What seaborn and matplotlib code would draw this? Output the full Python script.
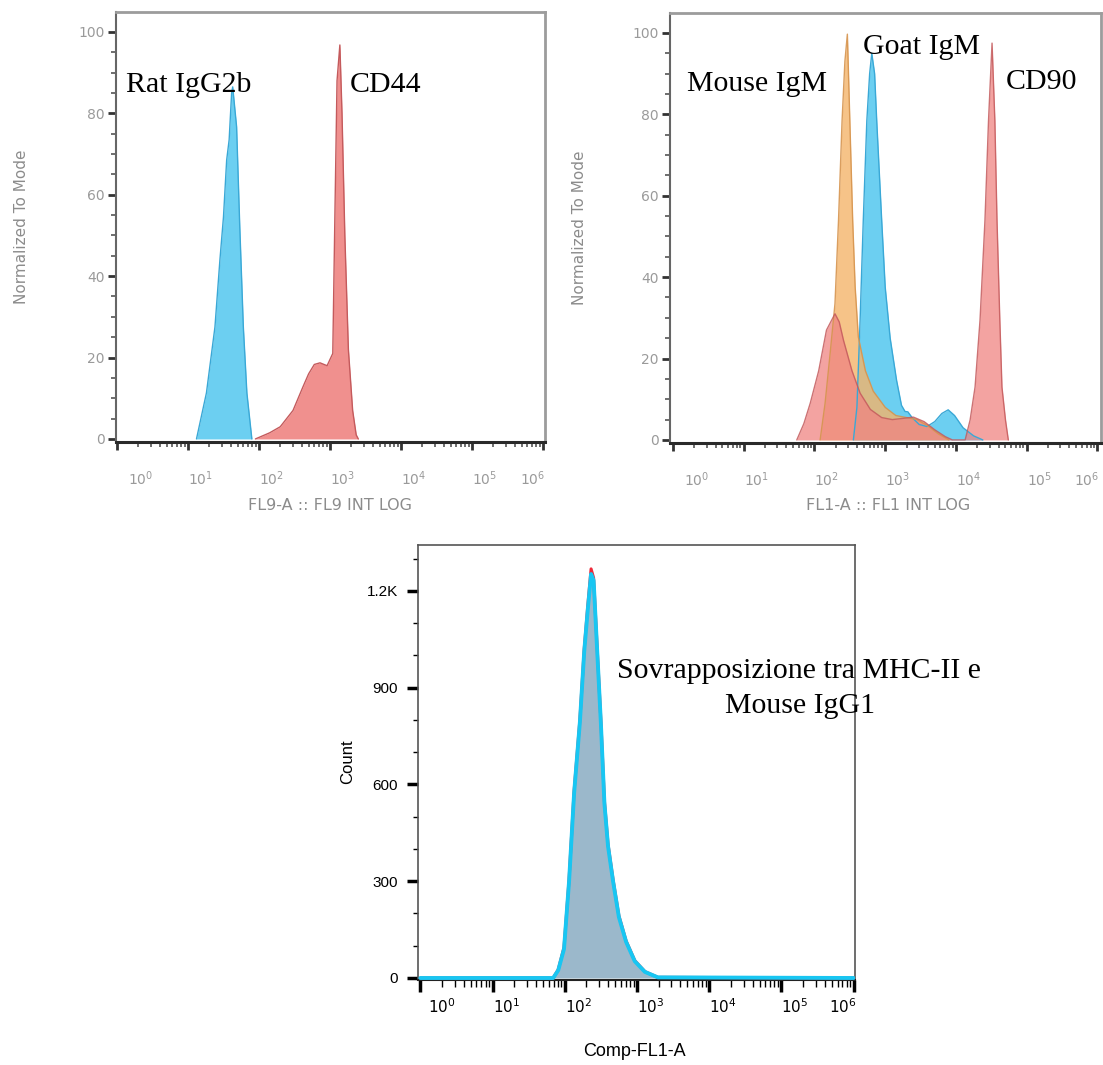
import numpy as np
import matplotlib
matplotlib.use("Agg")
import matplotlib.pyplot as plt
import matplotlib.ticker as mticker
import matplotlib.transforms as mtransforms
import seaborn as sns

# top left panel (FL9)
rat_igg2b_x = [1.12, 1.26, 1.38, 1.45, 1.50, 1.545, 1.58, 1.615, 1.63, 1.685, 1.73, 1.78, 1.83, 1.90]
rat_igg2b_y = [0, 11.3, 27.5, 44, 54.5, 68.5, 73.5, 85, 86.5, 76.7, 52, 27.5, 11.3, 0]
cd44_x = [1.95, 2.15, 2.30, 2.48, 2.62, 2.70, 2.78, 2.86, 2.96, 3.04, 3.07, 3.10, 3.14, 3.17, 3.21, 3.26, 3.32, 3.37, 3.40]
cd44_y = [0, 1.5, 3, 7, 12.8, 16, 18.3, 18.7, 18.0, 21, 55, 88, 96.8, 80, 50, 22, 7, 1, 0]

# top right panel (FL1)
goat_igm_x = [2.55, 2.60, 2.645, 2.69, 2.74, 2.78, 2.81, 2.85, 2.88, 2.95, 3.00, 3.07, 3.16, 3.23, 3.28,
              3.32, 3.38, 3.48, 3.59, 3.70, 3.80, 3.89, 3.98, 4.10, 4.25, 4.38]
goat_igm_y = [0, 8, 29.4, 54, 78.4, 90, 95, 90, 78.4, 54, 37.5, 25, 14.7, 8.5, 7,
              6.9, 5.5, 3.8, 3.3, 4.5, 6.5, 7.4, 6, 3, 1, 0]
mouse_igm_x = [2.08, 2.15, 2.22, 2.29, 2.34, 2.39, 2.43, 2.465, 2.50, 2.54, 2.575, 2.62, 2.72, 2.83,
               3.00, 3.15, 3.30, 3.45, 3.60, 3.75, 3.90]
mouse_igm_y = [0, 9, 21, 33.5, 54, 78.4, 93, 99.7, 78.4, 54, 37.6, 25.3, 17, 12,
               8, 6, 5.5, 5, 3.5, 1.5, 0]
cd90_x = [1.75, 1.85, 1.94, 2.06, 2.17, 2.29, 2.35, 2.41, 2.53, 2.645, 2.79, 2.95, 3.10, 3.25, 3.40,
          3.55, 3.70, 3.85, 3.95, 4.13, 4.20, 4.27, 4.34, 4.41, 4.46, 4.51, 4.55, 4.58, 4.62, 4.65,
          4.70, 4.74]
cd90_y = [0, 4, 9, 17, 27, 31, 29, 24.5, 17, 11.5, 7.5, 5.5, 5, 5.3, 5.6,
          4.5, 2.5, 0.8, 0, 0, 4.9, 13, 29.4, 54, 78.4, 97.5, 78.4, 54, 29.4, 13,
          4.9, 0]

# bottom panel (Comp-FL1-A counts)
overlay_x = [0, 1.84, 1.91, 1.99, 2.06, 2.13, 2.21, 2.27, 2.32, 2.365, 2.40, 2.45, 2.50, 2.55,
             2.60, 2.67, 2.75, 2.85, 2.97, 3.11, 3.29, 6]
mhc_ii_y = [0, 0, 26, 95, 305, 580, 800, 1020, 1155, 1268, 1240, 1020, 800, 548,
            414, 304, 193, 115, 54, 20, 2, 0]
mouse_igg1_y = [0, 0, 24, 90, 299, 573, 793, 1012, 1144, 1252, 1232, 1012, 793, 540,
                408, 299, 189, 112, 52, 19, 2, 0]

count_ticks = [0, 300, 600, 900, 1200]
count_labels = ["0", "300", "600", "900", "1.2K"]
decades = [0, 1, 2, 3, 4, 5, 6]

sns.set_theme(style="white")
plt.rcParams["font.family"] = ["DejaVu Sans"]
plt.rcParams["mathtext.fontset"] = "custom"
plt.rcParams["mathtext.rm"] = "Liberation Sans"
plt.rcParams["mathtext.default"] = "regular"

W, H = 1103, 1065
fig = plt.figure(figsize=(W / 100, H / 100), dpi=100)


def px_axes(left, top, right, bottom):
    return fig.add_axes([left / W, 1 - bottom / H, (right - left) / W, (bottom - top) / H])


def fig_text(x, y, s, **kw):
    fig.text(x / W, 1 - y / H, s, **kw)


def draw_hist(ax, xs, ys, fill, edge, alpha=1.0, lw=1.0):
    vals = np.power(10.0, np.array(xs, dtype=float))
    ax.fill_between(vals, ys, color=fill, alpha=alpha, lw=0, zorder=2)
    sns.lineplot(x=vals, y=ys, ax=ax, color=edge, lw=lw, sort=False, estimator=None,
                 alpha=min(1.0, alpha + 0.1), zorder=3)


def place_xlabels(ax, first_dx, last_dx):
    labels = ax.set_xticklabels(["$10^{%d}$" % d for d in decades])
    for i, lab in enumerate(labels):
        dx = 0
        if i == 0:
            dx = first_dx
        if i == len(labels) - 1:
            lab.set_ha("right")
            dx = last_dx
        else:
            lab.set_ha("left")
        lab.set_transform(lab.get_transform() + mtransforms.ScaledTranslation(dx / 100, 0, fig.dpi_scale_trans))


def style_top(ax, lo, hi):
    ax.set_xscale("log")
    ax.set_xlim(10 ** lo, 10 ** hi)
    ax.set_ylim(-0.75, 104.9)
    ax.set_xticks([10.0 ** d for d in decades])
    ax.xaxis.set_minor_locator(mticker.LogLocator(base=10, subs=np.arange(2, 10), numticks=12))
    ax.xaxis.set_minor_formatter(mticker.NullFormatter())
    ax.yaxis.set_major_locator(mticker.MultipleLocator(20))
    ax.yaxis.set_minor_locator(mticker.MultipleLocator(5))
    ax.tick_params(axis="both", which="major", direction="out", length=6, width=2,
                   color="#333333", labelcolor="#9a9a9a", labelsize=10)
    ax.tick_params(axis="both", which="minor", direction="out", length=3.5, width=1.2, color="#555555")
    ax.tick_params(axis="x", which="major", pad=14, bottom=True)
    ax.tick_params(axis="y", which="major", pad=2, left=True)
    ax.tick_params(axis="both", which="minor", bottom=True, left=True)
    for side in ["top", "right"]:
        ax.spines[side].set_color("#9c9c9c")
        ax.spines[side].set_linewidth(2)
    ax.spines["left"].set_color("#666666")
    ax.spines["left"].set_linewidth(1.5)
    ax.spines["bottom"].set_color("#2a2a2a")
    ax.spines["bottom"].set_linewidth(2.2)
    ax.set_xlabel("")
    ax.set_ylabel("")
    place_xlabels(ax, 11, 2)


serif = "Liberation Serif"
blue_fill, blue_edge = "#5CCAF0", "#3AA8D6"
red_fill, red_edge = "#EF8482", "#C45A5C"
orange_fill, orange_edge = "#F4B46A", "#D6944E"

# top left
ax1 = px_axes(116, 12, 545, 442)
ax1.set_xscale("log")
draw_hist(ax1, rat_igg2b_x, rat_igg2b_y, blue_fill, blue_edge, alpha=0.9)
draw_hist(ax1, cd44_x, cd44_y, red_fill, red_edge, alpha=0.9)
style_top(ax1, -0.014, 6.03)
ax1.text(10 ** 0.127, 85.3, "Rat IgG2b", fontsize=21.5, family=serif, color="black")
ax1.text(10 ** 3.28, 85.3, "CD44", fontsize=21.5, family=serif, color="black")
fig_text(22, 227, "Normalized To Mode", rotation=90, ha="center", va="center", fontsize=11, color="#8c8c8c")
fig_text(330, 506, "FL9-A :: FL9 INT LOG", ha="center", va="center", fontsize=11.5, color="#8c8c8c")

# top right
ax2 = px_axes(670, 13, 1101, 443)
ax2.set_xscale("log")
draw_hist(ax2, goat_igm_x, goat_igm_y, blue_fill, blue_edge, alpha=0.9)
draw_hist(ax2, mouse_igm_x, mouse_igm_y, orange_fill, orange_edge, alpha=0.8)
draw_hist(ax2, cd90_x, cd90_y, red_fill, red_edge, alpha=0.75)
style_top(ax2, -0.042, 6.05)
ax2.text(10 ** 0.20, 85.8, "Mouse IgM", fontsize=21.5, family=serif, color="black")
ax2.text(10 ** 2.69, 94.8, "Goat IgM", fontsize=21.5, family=serif, color="black")
ax2.text(10 ** 4.70, 86.2, "CD90", fontsize=21.5, family=serif, color="black")
fig_text(580, 228, "Normalized To Mode", rotation=90, ha="center", va="center", fontsize=11, color="#8c8c8c")
fig_text(888, 506, "FL1-A :: FL1 INT LOG", ha="center", va="center", fontsize=11.5, color="#8c8c8c")

# bottom
ax3 = px_axes(418, 545, 855, 980)
ax3.set_xscale("log")
vals3 = np.power(10.0, np.array(overlay_x, dtype=float))
ax3.fill_between(vals3, mhc_ii_y, color="#9BB8CB", lw=0, zorder=2)
sns.lineplot(x=vals3, y=mhc_ii_y, ax=ax3, color="#EE2A3A", lw=2.2, sort=False, estimator=None, zorder=3)
sns.lineplot(x=vals3, y=mouse_igg1_y, ax=ax3, color="#18C6F2", lw=2.8, sort=False, estimator=None, zorder=4)
ax3.set_xlim(10 ** -0.032, 10 ** 6.02)
ax3.set_ylim(-6.2, 1342)
ax3.set_xticks([10.0 ** d for d in decades])
ax3.xaxis.set_minor_locator(mticker.LogLocator(base=10, subs=np.arange(2, 10), numticks=12))
ax3.xaxis.set_minor_formatter(mticker.NullFormatter())
ax3.set_yticks(count_ticks)
ax3.set_yticklabels(count_labels)
ax3.yaxis.set_minor_locator(mticker.MultipleLocator(100))
ax3.tick_params(axis="both", which="major", direction="out", width=2.5, color="black",
                labelcolor="black", labelsize=11)
ax3.tick_params(axis="both", which="minor", direction="out", width=1, color="black")
ax3.tick_params(axis="x", which="major", length=8.5, pad=4, bottom=True)
ax3.tick_params(axis="x", which="minor", length=5, bottom=True)
ax3.tick_params(axis="y", which="major", length=8, pad=6.5, left=True)
ax3.tick_params(axis="y", which="minor", length=3.6, left=True)
for lab in ax3.get_yticklabels():
    lab.set_family("Liberation Sans")
for side in ["top", "right", "left"]:
    ax3.spines[side].set_color("#555555")
    ax3.spines[side].set_linewidth(1.2)
ax3.spines["bottom"].set_color("#222222")
ax3.spines["bottom"].set_linewidth(1.5)
ax3.set_xlabel("")
ax3.set_ylabel("")
place_xlabels(ax3, 8, 3)
ax3.text(10 ** 2.726, 930, "Sovrapposizione tra MHC-II e", fontsize=21.5, family=serif, color="black")
ax3.text(10 ** 4.223, 822, "Mouse IgG1", fontsize=21.5, family=serif, color="black")
fig_text(348, 762, "Count", rotation=90, ha="center", va="center", fontsize=12,
         family="Liberation Sans", color="black")
fig_text(634, 1051, "Comp-FL1-A", ha="center", va="center", fontsize=13,
         family="Liberation Sans", color="black")

fig.savefig("out.png", dpi=100)
